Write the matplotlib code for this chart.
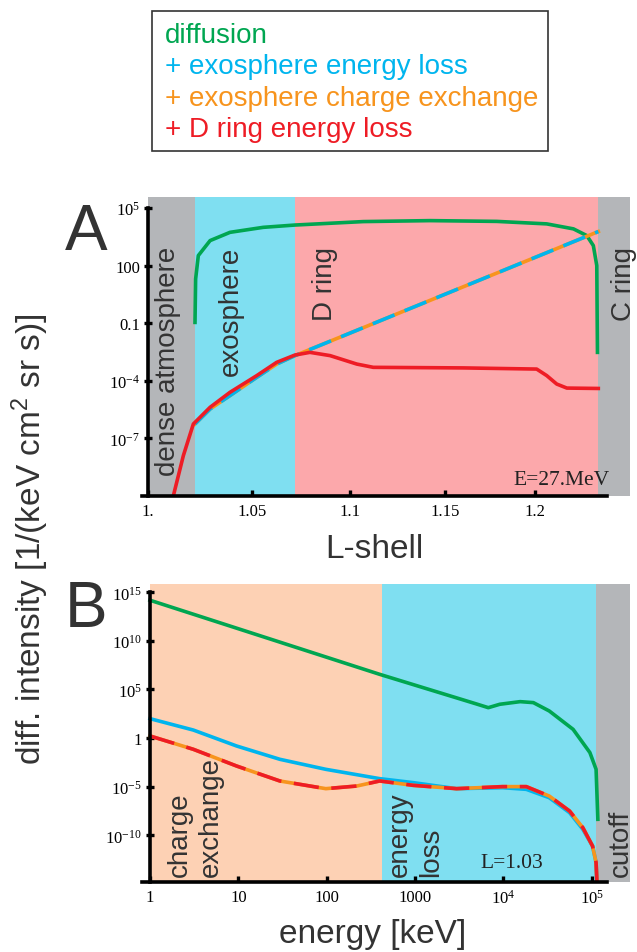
import matplotlib.pyplot as plt
from matplotlib.patches import Rectangle
import numpy as np

plt.rcParams['font.family'] = ['Liberation Sans', 'DejaVu Sans']

# colours
c_green = '#00a651'
c_blue = '#00b5ee'
c_orange = '#f7941d'
c_red = '#ee1c25'
c_gray = '#b4b6b9'
c_cyan = '#7fdff1'
c_pink = '#fca8ab'
c_peach = '#fdd1b4'
c_text = '#333333'

# ---- panel A data: L-shell, log10 intensity ----
A_regions = [1.0, 1.0223, 1.0716, 1.2362, 1.2549]
A_region_colors = [c_gray, c_cyan, c_pink, c_gray]
A_region_names = ['dense atmosphere', 'exosphere', 'D ring', 'C ring']

A_green_L = [1.0223, 1.0226, 1.0239, 1.0296, 1.0393, 1.0557, 1.0716, 1.1067, 1.1420,
             1.1785, 1.2066, 1.2219, 1.2296, 1.2334, 1.2354, 1.2358]
A_green_y = [-0.96, 1.30, 2.52, 3.30, 3.73, 3.99, 4.11, 4.29, 4.34,
             4.30, 4.17, 3.91, 3.56, 3.04, 2.0, -2.52]

A_blue_L = [1.0223, 1.0296, 1.0393, 1.0525, 1.0624, 1.0716, 1.2363]
A_blue_y = [-6.25, -5.47, -4.77, -3.82, -3.13, -2.69, 3.77]

A_red_L = [1.0119, 1.0167, 1.0215, 1.0296, 1.0393, 1.0525, 1.0624, 1.0716, 1.0792,
           1.0895, 1.1033, 1.1119, 1.1601, 1.2009, 1.2066, 1.2123, 1.2181, 1.2363]
A_red_y = [-10.0, -7.9, -6.25, -5.38, -4.6, -3.73, -3.04, -2.66, -2.52,
           -2.69, -3.13, -3.30, -3.33, -3.39, -3.73, -4.17, -4.38, -4.4]

A_yticks = [1e5, 100, 0.1, 1e-4, 1e-7]
A_yticklabels = [r'$\mathregular{10^{5}}$', '100', '0.1', r'$\mathregular{10^{-4}}$', r'$\mathregular{10^{-7}}$']
A_xticks = [1.0, 1.05, 1.1, 1.15, 1.2]
A_xticklabels = ['1.', '1.05', '1.1', '1.15', '1.2']

# ---- panel B data: log10 energy [keV], log10 intensity ----
B_regions = [0.0, 2.624, 5.049, 5.434]
B_region_colors = [c_peach, c_cyan, c_gray]

B_green_x = [0.0, 2.60, 3.70, 3.83, 3.96, 4.19, 4.34, 4.52, 4.79, 4.98, 5.05, 5.07]
B_green_y = [14.18, 6.56, 3.50, 3.13, 3.48, 3.75, 3.65, 2.79, 0.90, -1.49, -3.21, -8.35]

B_blue_x = [0.0, 0.49, 0.98, 1.47, 1.99, 2.60, 2.98, 3.47, 3.99, 4.26, 4.52, 4.75, 4.90, 5.01, 5.05, 5.06]
B_blue_y = [2.0, 0.83, -0.81, -2.18, -3.21, -4.17, -4.58, -5.2, -5.1, -5.27, -6.13, -7.67, -9.38, -11.1, -12.8, -14.9]

B_red_x = [0.0, 0.49, 0.98, 1.47, 1.99, 2.34, 2.60, 2.98, 3.47, 3.99, 4.26, 4.52, 4.75, 4.90, 5.01, 5.05, 5.06]
B_red_y = [0.22, -1.15, -2.87, -4.41, -5.2, -4.93, -4.41, -4.86, -5.2, -4.99, -4.99, -5.96, -7.5, -9.21, -11.1, -12.8, -14.9]

B_yticks = [1e15, 1e10, 1e5, 1, 1e-5, 1e-10]
B_yticklabels = [r'$\mathregular{10^{15}}$', r'$\mathregular{10^{10}}$', r'$\mathregular{10^{5}}$', '1',
                 r'$\mathregular{10^{-5}}$', r'$\mathregular{10^{-10}}$']
B_xticks = [1, 10, 100, 1000, 1e4, 1e5]
B_xticklabels = ['1', '10', '100', '1000', r'$\mathregular{10^{4}}$', r'$\mathregular{10^{5}}$']

legend_labels = ['diffusion', '+ exosphere energy loss', '+ exosphere charge exchange', '+ D ring energy loss']
legend_colors = [c_green, c_blue, c_orange, c_red]

W, H = 637, 953
fig = plt.figure(figsize=(W / 100, H / 100), dpi=100)


def fx(x):
    return x / W


def fy(y):
    return 1 - y / H


def style_axis(ax):
    for s in ['top', 'right']:
        ax.spines[s].set_visible(False)
    for s in ['left', 'bottom']:
        ax.spines[s].set_linewidth(2.6)
        ax.spines[s].set_zorder(5)
    ax.spines['left'].set_position(('data', 1.0))
    ax.minorticks_off()
    ax.tick_params(axis='y', direction='inout', length=6, width=2.4, pad=3, labelsize=12)
    ax.tick_params(axis='x', direction='in', length=4, width=2.4, pad=5, labelsize=12)
    for lab in ax.get_xticklabels() + ax.get_yticklabels():
        lab.set_family('Liberation Serif')


# ---------------- panel A ----------------
axA = fig.add_axes([fx(142), fy(497), fx(488), 299 / H])
axA.set_xscale('log')
axA.set_yscale('log')
axA.set_xlim(0.99708, 1.2549)
axA.set_ylim(1e-10, 10 ** 5.57)
for i, col in enumerate(A_region_colors):
    axA.axvspan(A_regions[i], A_regions[i + 1], color=col, lw=0, zorder=0)

lw = 2.6
axA.plot(A_green_L, 10 ** np.array(A_green_y), color=c_green, lw=lw)
axA.plot(A_blue_L, 10 ** np.array(A_blue_y), color=c_orange, lw=lw)
axA.plot(A_blue_L, 10 ** np.array(A_blue_y), color=c_blue, lw=lw, dashes=(6.5, 3))
axA.plot(A_red_L, 10 ** np.array(A_red_y), color=c_red, lw=lw)

axA.set_yticks(A_yticks)
axA.set_yticklabels(A_yticklabels)
axA.set_xticks(A_xticks)
axA.set_xticklabels(A_xticklabels)
style_axis(axA)
axA.spines['left'].set_bounds(1e-10, 1e5)
axA.spines['bottom'].set_bounds(0.99708, 1.2414)

# ---------------- panel B ----------------
axB = fig.add_axes([fx(142), fy(883), fx(488), 298 / H])
axB.set_xscale('log')
axB.set_yscale('log')
axB.set_xlim(10 ** -0.0906, 10 ** 5.434)
axB.set_ylim(10 ** -14.8, 10 ** 15.85)
for i, col in enumerate(B_region_colors):
    axB.axvspan(10 ** B_regions[i], 10 ** B_regions[i + 1], color=col, lw=0, zorder=0)

axB.plot(10 ** np.array(B_green_x), 10 ** np.array(B_green_y), color=c_green, lw=lw)
axB.plot(10 ** np.array(B_blue_x), 10 ** np.array(B_blue_y), color=c_blue, lw=lw)
axB.plot(10 ** np.array(B_red_x), 10 ** np.array(B_red_y), color=c_orange, lw=lw)
axB.plot(10 ** np.array(B_red_x), 10 ** np.array(B_red_y), color=c_red, lw=lw, dashes=(7, 3.5))

axB.set_yticks(B_yticks)
axB.set_yticklabels(B_yticklabels)
axB.set_xticks(B_xticks)
axB.set_xticklabels(B_xticklabels)
style_axis(axB)
axB.spines['left'].set_bounds(10 ** -14.8, 1e15)
axB.spines['bottom'].set_bounds(10 ** -0.0906, 10 ** 5.17)

# ---------------- texts ----------------
rot = dict(rotation=90, rotation_mode='anchor', fontsize=20, color=c_text)
# panel A region names, top-aligned
for name, bx in zip(A_region_names, [175, 238, 332, 631]):
    fig.text(fx(bx), fy(247), name, ha='right', va='baseline', **rot)
# panel B region names, bottom-aligned
for name, bx in zip(['charge', 'exchange', 'energy', 'loss', 'cutoff'], [187, 218, 407, 438, 628]):
    fig.text(fx(bx), fy(877), name, ha='left', va='baseline', **rot)

fig.text(fx(610), fy(485), 'E=27.MeV', ha='right', va='baseline', fontsize=15.5,
         family='Liberation Serif', color='#222222')
fig.text(fx(543), fy(868), 'L=1.03', ha='right', va='baseline', fontsize=15.5,
         family='Liberation Serif', color='#222222')

fig.text(fx(65), fy(250), 'A', fontsize=46, color=c_text, ha='left', va='baseline')
fig.text(fx(65), fy(627), 'B', fontsize=46, color=c_text, ha='left', va='baseline')

fig.text(fx(374), fy(558), 'L-shell', fontsize=24, color=c_text, ha='center', va='baseline')
fig.text(fx(373), fy(943), 'energy [keV]', fontsize=24, color=c_text, ha='center', va='baseline')
fig.text(fx(41), fy(539), 'diff. intensity [1/(keV cm$\\mathregular{^2}$ sr s)]', fontsize=24,
         color=c_text, rotation=90, ha='center', va='baseline', rotation_mode='anchor')

# legend box
fig.patches.append(Rectangle((fx(152), fy(152)), fx(396), 140 / H, transform=fig.transFigure,
                             fill=False, edgecolor='#333333', lw=1.2))
for i, (lab, col) in enumerate(zip(legend_labels, legend_colors)):
    fig.text(fx(165), fy(43 + 31.3 * i), lab, fontsize=20, color=col, ha='left', va='baseline')

fig.savefig('out.png', dpi=100)
